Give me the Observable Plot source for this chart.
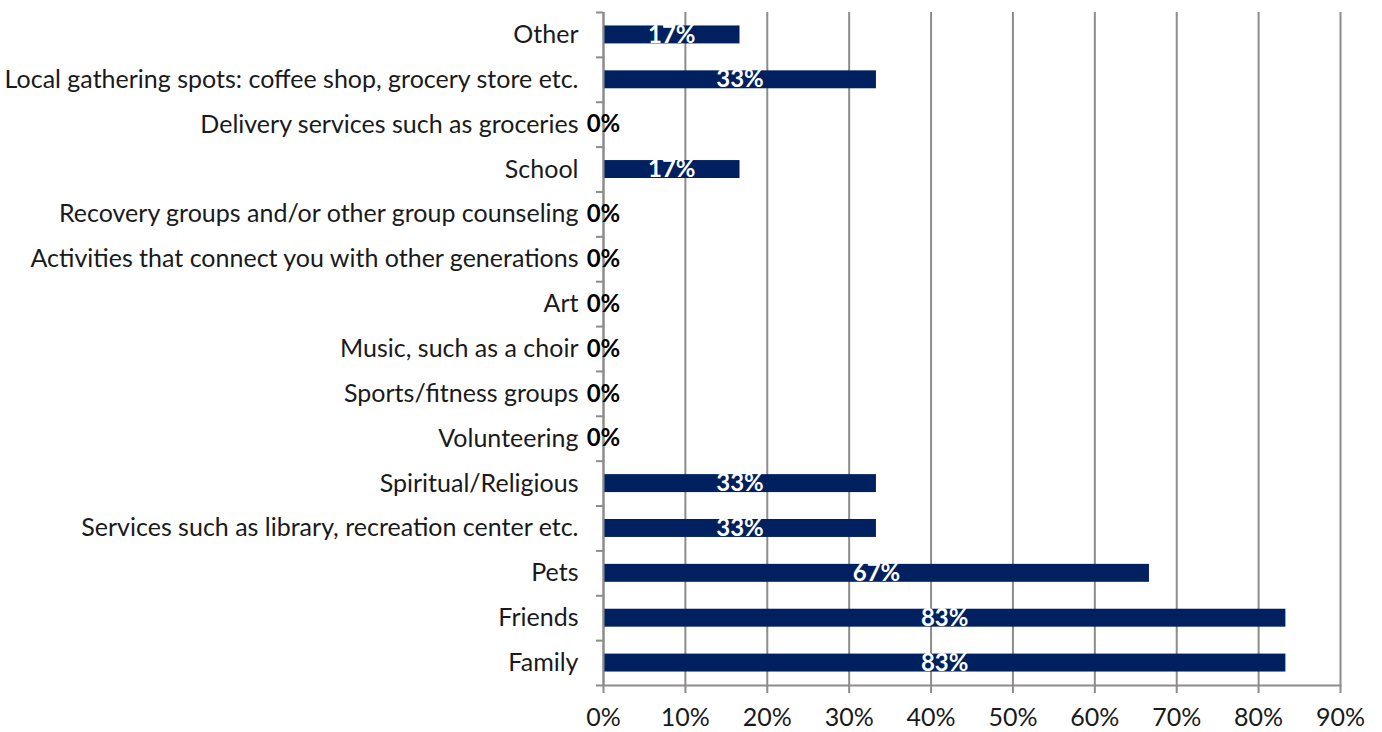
<!DOCTYPE html>
<html>
<head>
<meta charset="utf-8">
<script src="https://cdn.jsdelivr.net/npm/d3@7"></script>
<script src="https://cdn.jsdelivr.net/npm/@observablehq/plot@0.6"></script>
<style>
  html, body { margin: 0; padding: 0; background: #fff; }
  #chart svg { display: block; }
</style>
</head>
<body>
<div id="chart"></div>
<script>
const categories = [
  "Other",
  "Local gathering spots: coffee shop, grocery store etc.",
  "Delivery services such as groceries",
  "School",
  "Recovery groups and/or other group counseling",
  "Activities that connect you with other generations",
  "Art",
  "Music, such as a choir",
  "Sports/fitness groups",
  "Volunteering",
  "Spiritual/Religious",
  "Services such as library, recreation center etc.",
  "Pets",
  "Friends",
  "Family"
];
const values = [16.67, 33.33, 0, 16.67, 0, 0, 0, 0, 0, 0, 33.33, 33.33, 66.67, 83.33, 83.33];
const xTicks = [0, 10, 20, 30, 40, 50, 60, 70, 80, 90];

const data = categories.map((c, i) => ({category: c, value: values[i]}));

const W = 1382, H = 732;
const mt = 12, mb = 47, ml = 603, mr = 42;
const step = (H - mt - mb) / categories.length;
const gray = "#8c8c8c";
const navy = "#002060";
const font = "Lato, 'Open Sans', sans-serif";

const chart = Plot.plot({
  width: W,
  height: H,
  marginTop: mt,
  marginBottom: mb,
  marginLeft: ml,
  marginRight: mr,
  style: {fontFamily: font, fontSize: "25px", color: "#1a1a1a", background: "#fff"},
  x: {domain: [0, 90], label: null},
  y: {domain: categories, paddingInner: 0.6, paddingOuter: 0.3, round: false, label: null},
  marks: [
    Plot.gridX(xTicks, {stroke: gray, strokeOpacity: 1, strokeWidth: 2}),
    Plot.barX(data, {y: "category", x: "value", fill: navy}),
    Plot.axisX(xTicks, {
      tickSize: 8, tickPadding: 15, stroke: gray, strokeWidth: 2,
      tickFormat: d => d + "%", fontSize: 25, fill: "#1a1a1a", label: null
    }),
    Plot.frame({anchor: "bottom", stroke: gray, strokeWidth: 2}),
    Plot.ruleX([0], {stroke: gray, strokeWidth: 2}),
    Plot.axisY({tickSize: 0, tickPadding: 25, fontSize: 25, fill: "#1a1a1a", label: null}),
    Plot.axisY({tickSize: 7, text: null, dy: step / 2, stroke: gray, strokeWidth: 2, label: null}),
    Plot.axisY([categories[0]], {tickSize: 7, text: null, dy: -step / 2, stroke: gray, strokeWidth: 2, label: null}),
    Plot.text(data, {
      y: "category",
      x: d => d.value / 2,
      text: d => Math.round(d.value) + "%",
      fill: d => d.value > 0 ? "#ffffff" : "#000000",
      fontWeight: "bold",
      fontSize: 24,
      textAnchor: "middle"
    })
  ]
});

document.getElementById("chart").appendChild(chart);
</script>
</body>
</html>
